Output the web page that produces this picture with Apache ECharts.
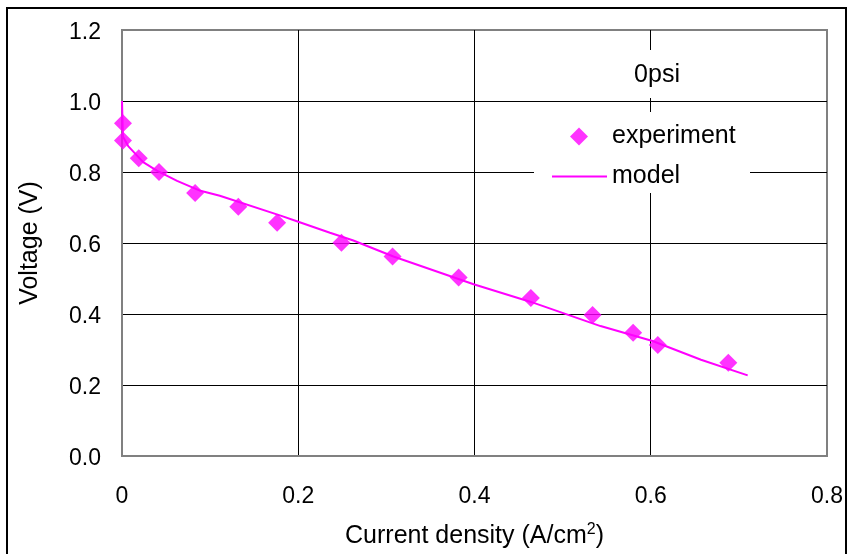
<!DOCTYPE html>
<html>
<head>
<meta charset="utf-8">
<script src="https://cdn.jsdelivr.net/npm/echarts@6/dist/echarts.min.js"></script>
<style>
html,body{margin:0;padding:0;background:#fff;}
#c{width:848px;height:554px;}
</style>
</head>
<body>
<div id="c"></div>
<script>
// Experiment points
const expX = [0.0011, 0.0011, 0.019, 0.042, 0.083, 0.132, 0.176, 0.249, 0.307, 0.382, 0.464, 0.534, 0.580, 0.608, 0.688];
const expY = [0.937, 0.889, 0.839, 0.800, 0.741, 0.702, 0.657, 0.601, 0.562, 0.503, 0.445, 0.397, 0.347, 0.313, 0.263];
// Model curve
const modelX = [0, 0.001, 0.007, 0.024, 0.040, 0.0625, 0.089, 0.111, 0.180, 0.200, 0.236, 0.2625, 0.308, 0.399, 0.464, 0.543, 0.602, 0.657, 0.710];
const modelY = [1.0, 0.90, 0.873, 0.828, 0.803, 0.775, 0.747, 0.733, 0.677, 0.660, 0.629, 0.607, 0.562, 0.484, 0.434, 0.366, 0.324, 0.271, 0.227];
// Axis ticks
const xTicks = [0, 0.2, 0.4, 0.6, 0.8];
const yTicks = [0.0, 0.2, 0.4, 0.6, 0.8, 1.0, 1.2];
const seriesNames = ['experiment', 'model'];
const annotation = '0psi';

const FONT = 'Liberation Sans';
const FS_TICK = 23;
const FS_TITLE = 25;
const FS_LEG = 25;
const MAGENTA = '#ff00ff';
const GRAY = '#808080';

const chart = echarts.init(document.getElementById('c'), null, {renderer: 'canvas'});

const xSplitColors = xTicks.map((v, i) => (i === 0 || i === xTicks.length - 1) ? GRAY : '#000');
const ySplitColors = yTicks.map((v, i) => (i === 0 || i === yTicks.length - 1) ? GRAY : '#000');

chart.setOption({
  animation: false,
  backgroundColor: '#fff',
  textStyle: {fontFamily: FONT},
  grid: {left: 122, right: 21, top: 30, bottom: 95, show: true, borderColor: GRAY, borderWidth: 2, backgroundColor: 'transparent'},
  xAxis: {
    type: 'value', min: xTicks[0], max: xTicks[xTicks.length - 1], interval: 0.2,
    axisLine: {show: true, lineStyle: {color: GRAY, width: 2}},
    axisTick: {show: false},
    splitLine: {show: true, lineStyle: {color: xSplitColors, width: 1}},
    axisLabel: {margin: 29, color: '#000', fontSize: FS_TICK, fontFamily: FONT,
      formatter: v => v === 0 ? '0' : v.toFixed(1)},
    name: 'Current density (A/cm{sup|2})',
    nameLocation: 'middle', nameGap: 66,
    nameTextStyle: {color: '#000', fontSize: FS_TITLE, fontFamily: FONT,
      rich: {sup: {fontSize: 16, verticalAlign: 'top', padding: [0, 0, 13, 0], color: '#000', fontFamily: FONT}}}
  },
  yAxis: {
    type: 'value', min: yTicks[0], max: yTicks[yTicks.length - 1], interval: 0.2,
    axisLine: {show: true, lineStyle: {color: GRAY, width: 2}},
    axisTick: {show: false},
    splitLine: {show: true, lineStyle: {color: ySplitColors, width: 1}},
    axisLabel: {margin: 21, color: '#000', fontSize: FS_TICK, fontFamily: FONT,
      formatter: v => '{v|' + v.toFixed(1) + '}',
      rich: {v: {fontSize: FS_TICK, fontFamily: FONT, color: '#000', padding: [6, 0, 0, 0]}}},
    name: 'Voltage (V)', nameLocation: 'middle', nameGap: 79, nameRotate: 90,
    nameTextStyle: {color: '#000', fontSize: FS_TITLE, fontFamily: FONT}
  },
  legend: [
    {
      orient: 'vertical', left: 570, top: 124, padding: 0,
      itemWidth: 18, itemHeight: 18,
      selectedMode: false,
      textStyle: {color: '#000', fontSize: FS_LEG, fontFamily: FONT, padding: [0, 0, 0, 19]},
      data: [{name: seriesNames[0], icon: 'diamond'}]
    },
    {
      orient: 'vertical', left: 552, top: 164, padding: 0,
      itemWidth: 55, itemHeight: 2,
      selectedMode: false,
      textStyle: {color: '#000', fontSize: FS_LEG, fontFamily: FONT},
      data: [{name: seriesNames[1], icon: 'rect'}]
    }
  ],
  graphic: [
    {type: 'rect', z: 1, shape: {x: 534, y: 112, width: 216, height: 81}, style: {fill: '#fff'}},
    {type: 'rect', z: 1, shape: {x: 612, y: 50, width: 90, height: 48}, style: {fill: '#fff'}},
    {type: 'text', z: 5, x: 657, y: 75, style: {text: annotation, fill: '#000', font: FS_LEG + 'px "' + FONT + '"', textAlign: 'center', textVerticalAlign: 'middle'}},
    {type: 'rect', z: 100, shape: {x: 7, y: 8, width: 839, height: 560}, style: {fill: 'none', stroke: '#000', lineWidth: 2}}
  ],
  series: [
    {
      name: seriesNames[0], type: 'scatter', symbol: 'diamond', symbolSize: 18,
      itemStyle: {color: MAGENTA}, z: 3,
      data: expX.map((x, i) => [x, expY[i]])
    },
    {
      name: seriesNames[1], type: 'line', symbol: 'none', showSymbol: false, smooth: false,
      lineStyle: {color: MAGENTA, width: 2}, itemStyle: {color: MAGENTA}, z: 2,
      data: modelX.map((x, i) => [x, modelY[i]])
    }
  ]
});
</script>
</body>
</html>
